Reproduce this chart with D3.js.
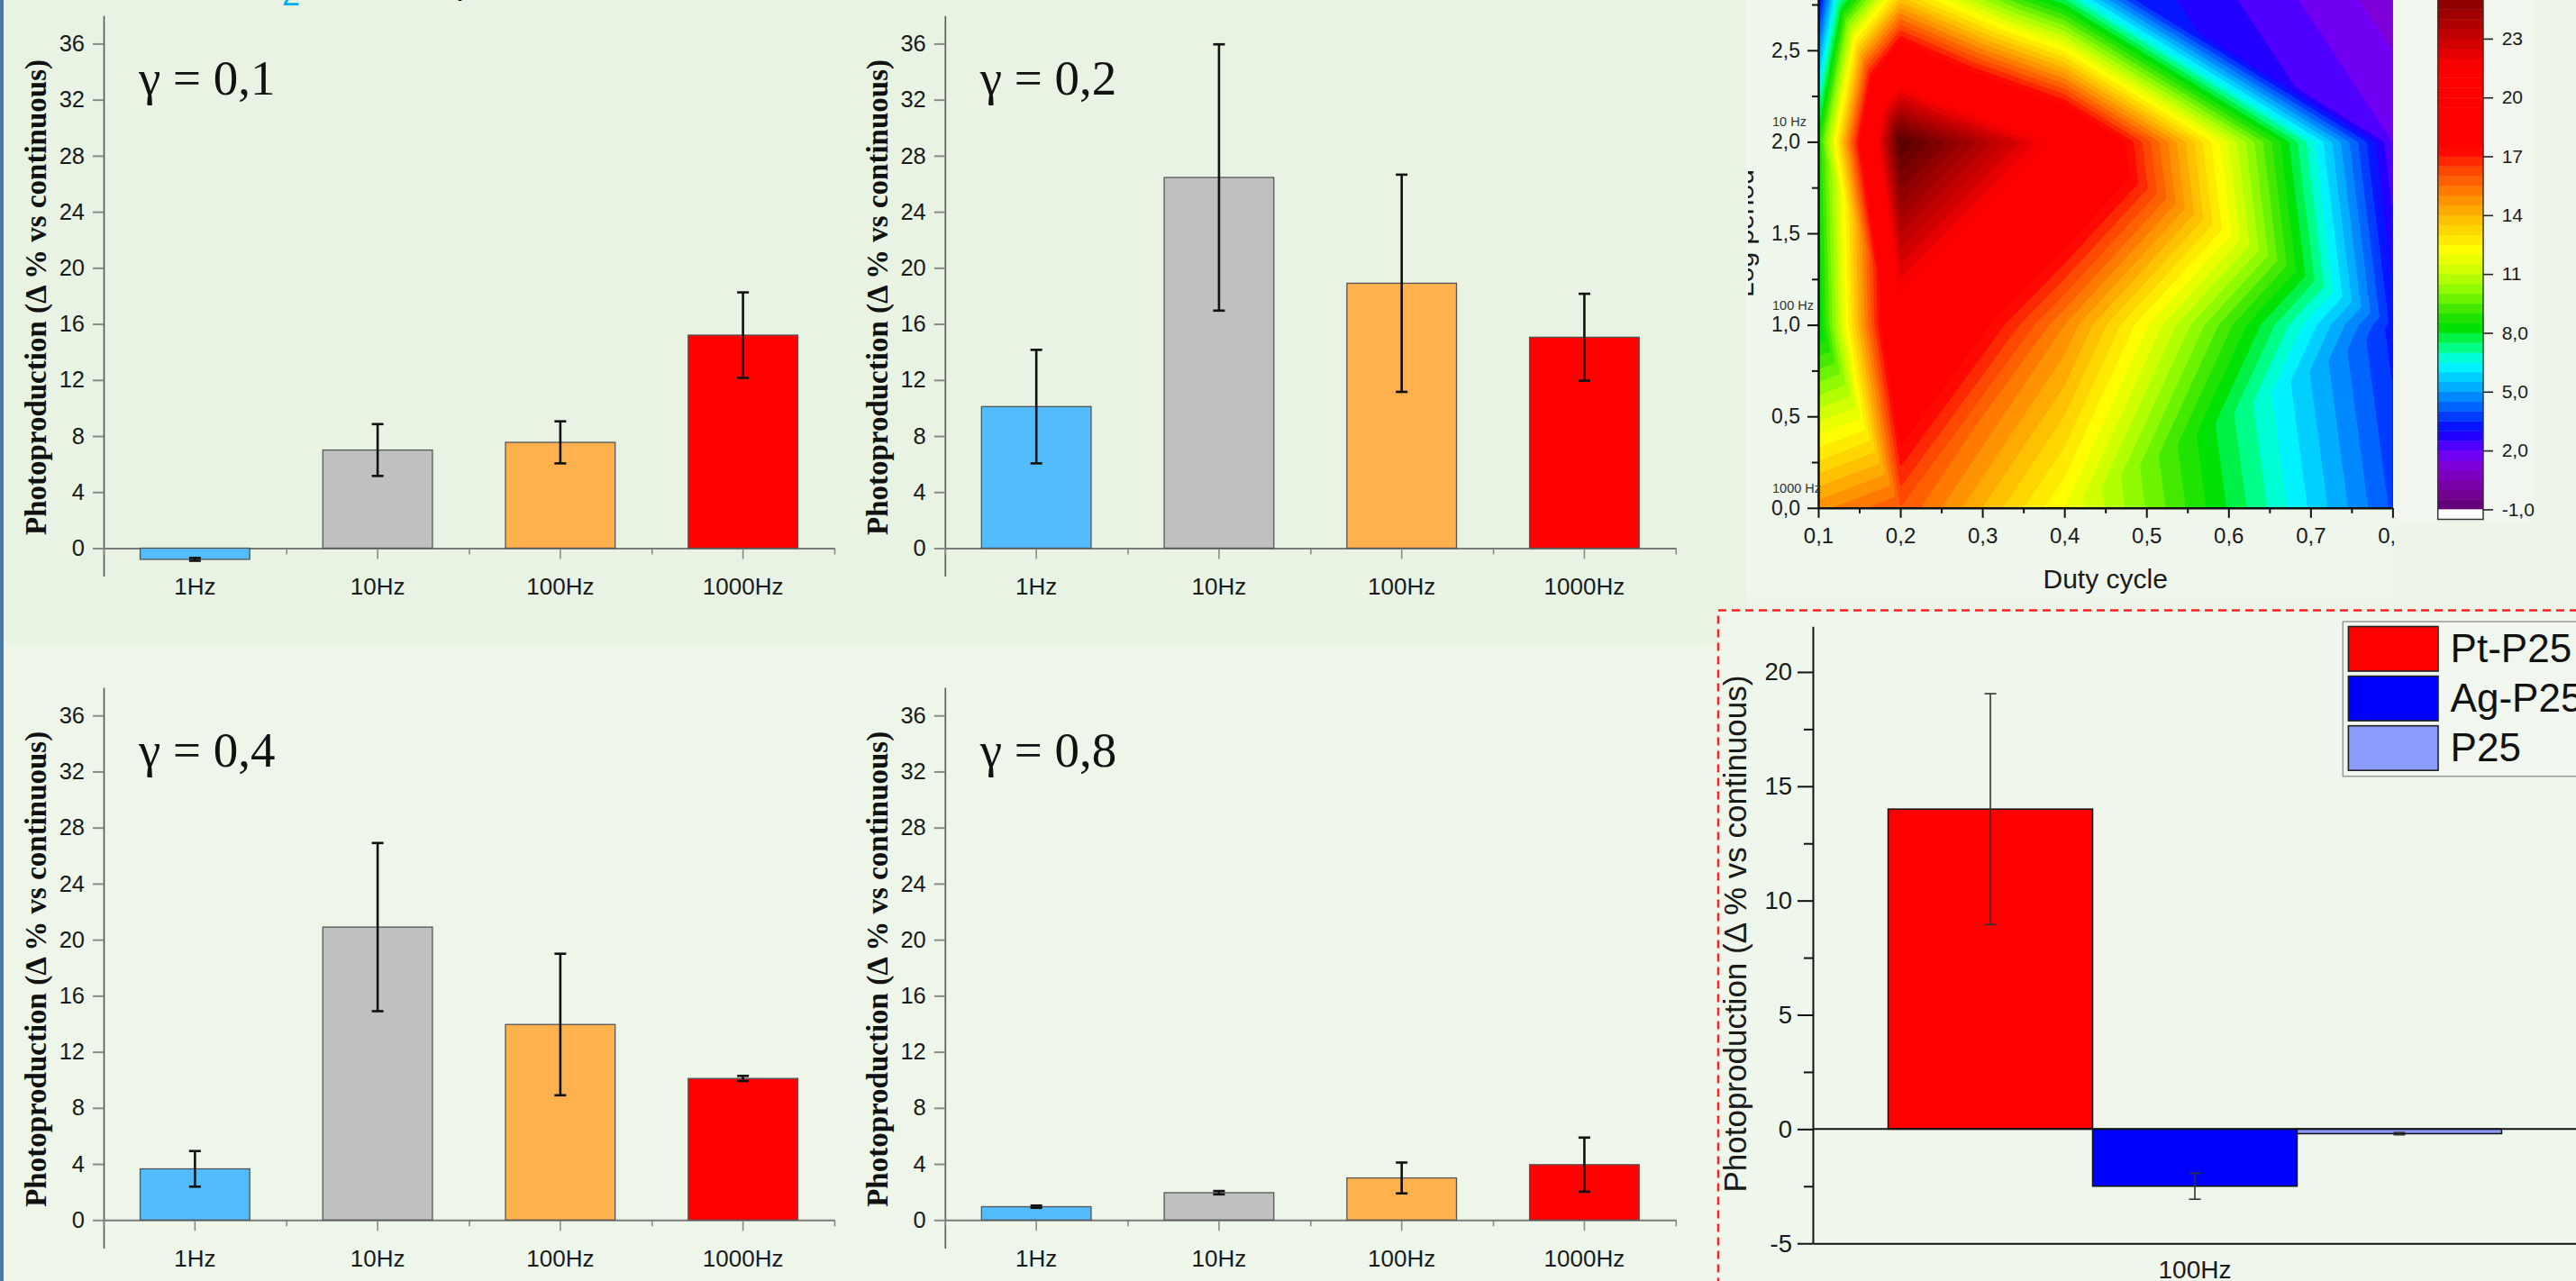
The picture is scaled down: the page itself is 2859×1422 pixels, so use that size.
<!DOCTYPE html>
<html><head><meta charset="utf-8">
<script src="https://cdn.jsdelivr.net/npm/d3@7"></script>
<style>html,body{margin:0;padding:0;background:#edf5e8;overflow:hidden} svg{display:block}</style>
</head><body>
<svg id="c" width="2859" height="1422"></svg>
<script>
// ---------------- DATA ----------------
const frequencies = ["1Hz", "10Hz", "100Hz", "1000Hz"];
const freqColors = ["#52bcfc", "#c0c0c0", "#ffb14e", "#ff0000"];
const gammaLabels = ["γ = 0,1", "γ = 0,2", "γ = 0,4", "γ = 0,8"];
const gamma01Values = [-0.8, 7.0, 7.55, 15.2];
const gamma01Errors = [0.1, 1.85, 1.5, 3.05];
const gamma02Values = [10.1, 26.45, 18.9, 15.05];
const gamma02Errors = [4.05, 9.5, 7.75, 3.1];
const gamma04Values = [3.65, 20.9, 13.95, 10.1];
const gamma04Errors = [1.27, 6.0, 5.05, 0.18];
const gamma08Values = [0.95, 1.95, 3.0, 3.95];
const gamma08Errors = [0.08, 0.12, 1.1, 1.93];
const barYTicks = [0, 4, 8, 12, 16, 20, 24, 28, 32, 36];
const barYTitle = "Photoproduction (Δ % vs continuous)";

// contour map (duty cycle x log period), values
const dutyCycles = [0.1, 0.2, 0.4, 0.8];
const logPeriods = [0, 1, 2, 3];
const zLogP0 = [14.8, 16.0, 12.0, 3.9];
const zLogP1 = [7.8, 20.5, 15.0, 3.3];
const zLogP2 = [8.5, 26.5, 21.0, 2.0];
const zLogP3 = [1.0, 10.1, 3.7, 1.0];
// triangulation of each grid cell: "a" = lower-left/upper-right diagonal, "b" = upper-left/lower-right
const cellDiagonals0 = ["b", "a", "a"];
const cellDiagonals1 = ["b", "a", "b"];
const cellDiagonals2 = ["b", "a", "b"];
const contourXTicks = [0.1, 0.2, 0.3, 0.4, 0.5, 0.6, 0.7, 0.8];
const contourXMinor = [0.15, 0.25, 0.35, 0.45, 0.55, 0.65, 0.75];
const contourYTicks = [0, 0.5, 1.0, 1.5, 2.0, 2.5, 3.0];
const contourYMinor = [0.25, 0.75, 1.25, 1.75, 2.25, 2.75];
const freqMarkLabels = ["1000 Hz", "100 Hz", "10 Hz"];
const freqMarkLogP = [0, 1, 2];
const colorbarTicks = [-1, 2, 5, 8, 11, 14, 17, 20, 23];
const colorbarTickLabels = ["-1,0", "2,0", "5,0", "8,0", "11", "14", "17", "20", "23"];
const colorStopValues = [-1.0, -0.3, 0.5, 1.2, 1.8, 2.4, 3.0, 3.6, 4.3, 5.0, 5.7, 6.3, 6.8, 7.3, 7.8, 8.3, 9.0, 9.8, 10.6, 11.4, 12.2, 12.9, 13.6, 14.3, 15.0, 15.7, 16.4, 17.0, 17.4, 21.5, 23.0, 24.5, 26.0, 27.0];
const colorStopColors = ["#5c006c", "#72008c", "#7e00b4", "#8200d8", "#6e00f4", "#4400ff", "#0a00ff", "#0030ff", "#0068ff", "#009cff", "#00ccff", "#00f4ff", "#00ffd0", "#00ff80", "#00f040", "#00e000", "#30e400", "#70f400", "#a8ff00", "#d8ff00", "#ffff00", "#ffe400", "#ffc800", "#ffa800", "#ff8800", "#ff6400", "#ff4000", "#ff1800", "#ff0000", "#ff0000", "#c80000", "#960000", "#640000", "#4a0000"];

// catalyst comparison
const catalystCategory = ["100Hz"];
const catalysts = ["Pt-P25", "Ag-P25", "P25"];
const catalystValues = [14.0, -2.5, -0.2];
const catalystErrors = [5.05, 0.57, 0.05];
const catalystColors = ["#ff0000", "#0000ff", "#8c9cff"];
const catalystYTicks = [-5, 0, 5, 10, 15, 20];
const catalystYMinor = [-2.5, 2.5, 7.5, 12.5, 17.5];

// ---------------- DRAWING ----------------
const SANS = "'Liberation Sans', Arial, sans-serif";
const SERIF = "'Liberation Serif', 'Times New Roman', serif";
const svg = d3.select("#c");

function styleAxis(sel, o) {
  sel.attr("font-size", null).attr("font-family", null);
  sel.select(".domain").attr("stroke", o.dc).attr("stroke-width", o.dw);
  sel.selectAll(".tick line").attr("stroke", o.tc).attr("stroke-width", o.tw);
  sel.selectAll(".tick text").attr("fill", o.txt || "#1a1a1a")
    .style("font-size", o.fs + "px").style("font-family", SANS);
}

// backgrounds of the pasted sub-images
svg.append("rect").attr("x", 0).attr("y", 0).attr("width", 2859).attr("height", 1422).attr("fill", "#edf5e8");
svg.append("rect").attr("x", 4).attr("y", 0).attr("width", 1934).attr("height", 717).attr("fill", "#e9f3e3");
svg.append("rect").attr("x", 4).attr("y", 717).attr("width", 1903).attr("height", 705).attr("fill", "#eef6ea");
svg.append("rect").attr("x", 1938).attr("y", 0).attr("width", 719).attr("height", 662).attr("fill", "#eff6ec");
svg.append("rect").attr("x", 2657).attr("y", 0).attr("width", 155).attr("height", 578).attr("fill", "#f1f7ef");
svg.append("rect").attr("x", 0).attr("y", 0).attr("width", 4).attr("height", 1422).attr("fill", "#4a78ad");

// cut-off text at the very top
svg.append("text").attr("x", 313).attr("y", 6).text("2")
  .style("font-family", SANS).style("font-size", "36px").attr("fill", "#00b0f0");
svg.append("text").attr("x", 506).attr("y", -7).text("p")
  .style("font-family", SANS).style("font-size", "40px").attr("fill", "#111");

// ---------- bar panels ----------
function barPanel(ox, oy, label, values, errors) {
  const g = svg.append("g").attr("transform", `translate(${ox},${oy})`);
  const x = d3.scaleBand().domain(frequencies).range([115, 926]).paddingInner(0.4).paddingOuter(0.2);
  const y = d3.scaleLinear().domain([-2, 38]).range([639.6, 17.3]);

  const ya = g.append("g").attr("transform", "translate(115,0)")
    .call(d3.axisLeft(y).tickValues(barYTicks).tickSize(12).tickPadding(9).tickSizeOuter(0));
  styleAxis(ya, {dc: "#555", dw: 1.6, tc: "#8a8a8a", tw: 2, fs: 25.5});

  const xb = d3.scalePoint().domain(d3.range(5)).range([115, 926]);
  const xbA = g.append("g").attr("transform", `translate(0,${y(0)})`)
    .call(d3.axisBottom(xb).tickSize(7).tickFormat(""));
  xbA.select(".domain").remove();
  xbA.selectAll(".tick line").attr("stroke", "#8a8a8a").attr("stroke-width", 1.6);

  const xa = g.append("g").attr("transform", `translate(0,${y(0)})`)
    .call(d3.axisBottom(x).tickSize(12).tickPadding(21).tickSizeOuter(0));
  styleAxis(xa, {dc: "#7a7a7a", dw: 2, tc: "#8a8a8a", tw: 1.6, fs: 26});

  const data = frequencies.map((f, i) => ({f, v: values[i], e: errors[i], c: freqColors[i]}));
  g.selectAll("rect.bar").data(data).join("rect").attr("class", "bar")
    .attr("x", d => x(d.f)).attr("width", x.bandwidth())
    .attr("y", d => y(Math.max(0, d.v))).attr("height", d => Math.abs(y(d.v) - y(0)))
    .attr("fill", d => d.c).attr("stroke", "#555").attr("stroke-width", 1.3);

  const eg = g.selectAll("g.err").data(data).join("g").attr("class", "err")
    .attr("stroke", "#111").attr("stroke-width", 2.6);
  eg.append("line").attr("x1", d => x(d.f) + x.bandwidth() / 2).attr("x2", d => x(d.f) + x.bandwidth() / 2)
    .attr("y1", d => y(d.v + d.e)).attr("y2", d => y(d.v - d.e));
  eg.append("line").attr("x1", d => x(d.f) + x.bandwidth() / 2 - 6.5).attr("x2", d => x(d.f) + x.bandwidth() / 2 + 6.5)
    .attr("y1", d => y(d.v + d.e)).attr("y2", d => y(d.v + d.e));
  eg.append("line").attr("x1", d => x(d.f) + x.bandwidth() / 2 - 6.5).attr("x2", d => x(d.f) + x.bandwidth() / 2 + 6.5)
    .attr("y1", d => y(d.v - d.e)).attr("y2", d => y(d.v - d.e));

  g.append("text").attr("x", 154).attr("y", 105).text(label)
    .style("font-family", SERIF).style("font-size", "55px").attr("fill", "#111");
  g.append("text").attr("transform", "translate(51,330) rotate(-90)").attr("text-anchor", "middle")
    .text(barYTitle).style("font-family", SERIF).style("font-weight", "bold").style("font-size", "33px").attr("fill", "#111");
}
barPanel(0, 0, gammaLabels[0], gamma01Values, gamma01Errors);
barPanel(933.8, 0, gammaLabels[1], gamma02Values, gamma02Errors);
barPanel(0, 745.8, gammaLabels[2], gamma04Values, gamma04Errors);
barPanel(933.8, 745.8, gammaLabels[3], gamma08Values, gamma08Errors);

// ---------- contour map ----------
const commaLocale = d3.formatLocale({decimal: ",", thousands: ".", grouping: [3], currency: ["", ""], minus: "-"});
const fmt1 = commaLocale.format(".1f");
const colorScale = d3.scaleLinear().domain(colorStopValues).range(colorStopColors).clamp(true);
const xC = d3.scaleLinear().domain([0.1, 0.8]).range([2018, 2655.4]);
const yC = d3.scaleLinear().domain([0, 3]).range([563.8, -45.8]);
const zRows = [zLogP0, zLogP1, zLogP2, zLogP3];
const diags = [cellDiagonals0, cellDiagonals1, cellDiagonals2];

function zAt(dx, lp) {
  const i = Math.max(0, Math.min(2, d3.bisectRight(dutyCycles, dx) - 1));
  const j = Math.max(0, Math.min(2, d3.bisectRight(logPeriods, lp) - 1));
  const u = (dx - dutyCycles[i]) / (dutyCycles[i + 1] - dutyCycles[i]);
  const v = (lp - logPeriods[j]) / (logPeriods[j + 1] - logPeriods[j]);
  const z00 = zRows[j][i], z10 = zRows[j][i + 1], z01 = zRows[j + 1][i], z11 = zRows[j + 1][i + 1];
  if (diags[j][i] === "a") {
    if (u >= v) return z00 + u * (z10 - z00) + v * (z11 - z10);
    return z00 + v * (z01 - z00) + u * (z11 - z01);
  }
  if (u + v <= 1) return z00 + u * (z10 - z00) + v * (z01 - z00);
  return z11 + (1 - u) * (z01 - z11) + (1 - v) * (z10 - z11);
}

const clip = svg.append("defs").append("clipPath").attr("id", "cclip");
clip.append("rect").attr("x", 1940).attr("y", 0).attr("width", 717).attr("height", 662);
const gC = svg.append("g").attr("clip-path", "url(#cclip)");

const nC = 320, mC = 306;
const grid = new Float64Array(nC * mC);
const [dx0, dx1] = xC.domain(), [lp0, lp1] = yC.domain();
for (let r = 0; r < mC; r++) {
  const lp = lp1 - (r + 0.5) / mC * (lp1 - lp0);
  for (let c = 0; c < nC; c++) {
    const dx = dx0 + (c + 0.5) / nC * (dx1 - dx0);
    grid[r * nC + c] = zAt(dx, lp);
  }
}
const thresholds = d3.range(-1, 27.01, 0.5);
const bands = d3.contours().size([nC, mC]).thresholds(thresholds)(grid);
const px0 = xC.range()[0], sxC = (xC.range()[1] - xC.range()[0]) / nC;
const py0 = yC(lp1), syC = (yC(lp0) - yC(lp1)) / mC;
const proj = d3.geoTransform({point(x, y) { this.stream.point(px0 + x * sxC, py0 + y * syC); }});
gC.append("g").selectAll("path").data(bands).join("path")
  .attr("d", d3.geoPath(proj)).attr("fill", d => colorScale(d.value + 0.25));

const cyA = gC.append("g").attr("transform", `translate(${xC.range()[0]},0)`)
  .call(d3.axisLeft(yC).tickValues(contourYTicks).tickFormat(fmt1).tickSize(12).tickPadding(8).tickSizeOuter(0));
styleAxis(cyA, {dc: "#111", dw: 2.5, tc: "#111", tw: 2, fs: 23});
const cyM = gC.append("g").attr("transform", `translate(${xC.range()[0]},0)`)
  .call(d3.axisLeft(yC).tickValues(contourYMinor).tickFormat("").tickSize(7));
cyM.select(".domain").remove();
cyM.selectAll(".tick line").attr("stroke", "#111").attr("stroke-width", 2);

const cxA = gC.append("g").attr("transform", `translate(0,${yC(0)})`)
  .call(d3.axisBottom(xC).tickValues(contourXTicks).tickFormat(fmt1).tickSize(11).tickPadding(11).tickSizeOuter(0));
styleAxis(cxA, {dc: "#111", dw: 2.5, tc: "#111", tw: 2, fs: 24});
const cxM = gC.append("g").attr("transform", `translate(0,${yC(0)})`)
  .call(d3.axisBottom(xC).tickValues(contourXMinor).tickFormat("").tickSize(6));
cxM.select(".domain").remove();
cxM.selectAll(".tick line").attr("stroke", "#111").attr("stroke-width", 2);

gC.selectAll("text.fm").data(freqMarkLabels).join("text").attr("class", "fm")
  .attr("x", 1967).attr("y", (d, i) => yC(freqMarkLogP[i]) - 17).text(d => d)
  .style("font-family", SANS).style("font-size", "14.5px").attr("fill", "#333");
gC.append("text").attr("x", (xC.range()[0] + xC.range()[1]) / 2 + 0).attr("y", 653).attr("text-anchor", "middle")
  .text("Duty cycle").style("font-family", SANS).style("font-size", "30px").attr("fill", "#1a1a1a");
gC.append("text").attr("transform", `translate(1946,${(yC(0) + yC(3)) / 2}) rotate(-90)`).attr("text-anchor", "middle")
  .text("Log period").style("font-family", SANS).style("font-size", "30px").attr("fill", "#1a1a1a");

// ---------- colour bar ----------
const ycb = d3.scaleLinear().domain([-1, 23]).range([565.4, 42.9]);
const cbX = 2705.7, cbW = 50.3;
const gCB = svg.append("g");
gCB.selectAll("rect.cb").data(thresholds).join("rect").attr("class", "cb")
  .attr("x", cbX).attr("width", cbW)
  .attr("y", d => ycb(d + 0.5)).attr("height", d => ycb(d) - ycb(d + 0.5) + 0.4)
  .attr("fill", d => colorScale(d + 0.25));
gCB.append("rect").attr("x", cbX).attr("y", ycb(-1)).attr("width", cbW).attr("height", 11.1)
  .attr("fill", "#ffffff");
gCB.append("rect").attr("x", cbX).attr("y", -5).attr("width", cbW).attr("height", ycb(-1) + 11.1 + 5)
  .attr("fill", "none").attr("stroke", "#333").attr("stroke-width", 1.5);
const cbA = gCB.append("g").attr("transform", `translate(${cbX + cbW},0)`)
  .call(d3.axisRight(ycb).tickValues(colorbarTicks).tickFormat((d, i) => colorbarTickLabels[i]).tickSize(11).tickPadding(9.7));
cbA.select(".domain").remove();
styleAxis(cbA, {dc: "none", dw: 0, tc: "#222", tw: 1.6, fs: 21});

// ---------- catalyst comparison (dashed panel) ----------
const gR = svg.append("g");
gR.append("rect").attr("x", 1907).attr("y", 677.5).attr("width", 1000).attr("height", 800)
  .attr("fill", "#eff6ec").attr("stroke", "#ff2020").attr("stroke-width", 2.5).attr("stroke-dasharray", "9,6");
const xr = d3.scaleBand().domain(catalystCategory).range([2012, 2860]).padding(0.1093);
const xs = d3.scaleBand().domain(catalysts).range([0, xr.bandwidth()]);
const yr = d3.scaleLinear().domain([-5, 22]).range([1380.2, 695.2]);

const cdata = catalysts.map((k, i) => ({k, v: catalystValues[i], e: catalystErrors[i], c: catalystColors[i]}));
gR.selectAll("rect.cbar").data(cdata).join("rect").attr("class", "cbar")
  .attr("x", d => xr(catalystCategory[0]) + xs(d.k)).attr("width", xs.bandwidth())
  .attr("y", d => yr(Math.max(0, d.v))).attr("height", d => Math.abs(yr(d.v) - yr(0)))
  .attr("fill", d => d.c).attr("stroke", "#111").attr("stroke-width", 1.5);
const ceg = gR.selectAll("g.cerr").data(cdata).join("g").attr("class", "cerr")
  .attr("stroke", "#333").attr("stroke-width", 1.6);
const cx = d => xr(catalystCategory[0]) + xs(d.k) + xs.bandwidth() / 2;
ceg.append("line").attr("x1", cx).attr("x2", cx).attr("y1", d => yr(d.v + d.e)).attr("y2", d => yr(d.v - d.e));
ceg.append("line").attr("x1", d => cx(d) - 6.5).attr("x2", d => cx(d) + 6.5).attr("y1", d => yr(d.v + d.e)).attr("y2", d => yr(d.v + d.e));
ceg.append("line").attr("x1", d => cx(d) - 6.5).attr("x2", d => cx(d) + 6.5).attr("y1", d => yr(d.v - d.e)).attr("y2", d => yr(d.v - d.e));

gR.append("line").attr("x1", xr.range()[0]).attr("x2", xr.range()[1]).attr("y1", yr(0)).attr("y2", yr(0))
  .attr("stroke", "#111").attr("stroke-width", 2);

const ryA = gR.append("g").attr("transform", `translate(${xr.range()[0]},0)`)
  .call(d3.axisLeft(yr).tickValues(catalystYTicks).tickFormat(d => String(d)).tickSize(17).tickPadding(6).tickSizeOuter(0));
styleAxis(ryA, {dc: "#111", dw: 2, tc: "#111", tw: 2, fs: 27.5});
const ryM = gR.append("g").attr("transform", `translate(${xr.range()[0]},0)`)
  .call(d3.axisLeft(yr).tickValues(catalystYMinor).tickFormat("").tickSize(10));
ryM.select(".domain").remove();
ryM.selectAll(".tick line").attr("stroke", "#111").attr("stroke-width", 2);
const rxA = gR.append("g").attr("transform", `translate(0,${yr(-5)})`)
  .call(d3.axisBottom(xr).tickSize(0).tickPadding(18.5).tickSizeOuter(0));
styleAxis(rxA, {dc: "#111", dw: 2, tc: "#111", tw: 0, fs: 28});

gR.append("text").attr("transform", "translate(1938,1036.6) rotate(-90)").attr("text-anchor", "middle")
  .text(barYTitle).style("font-family", SANS).style("font-size", "35px").attr("fill", "#1a1a1a");

// legend
const lg = gR.append("g");
lg.append("rect").attr("x", 2600.3).attr("y", 690).attr("width", 300).attr("height", 171.7)
  .attr("fill", "#f1f7ef").attr("stroke", "#999").attr("stroke-width", 1.5);
lg.selectAll("rect.sw").data(cdata).join("rect").attr("class", "sw")
  .attr("x", 2606.4).attr("y", (d, i) => 695.5 + i * 55.1).attr("width", 99.6).attr("height", 49.5)
  .attr("fill", d => d.c).attr("stroke", "#222").attr("stroke-width", 1.6);
lg.selectAll("text.lt").data(cdata).join("text").attr("class", "lt")
  .attr("x", 2719.6).attr("y", (d, i) => 735.3 + i * 54.7).text(d => d.k)
  .style("font-family", SANS).style("font-size", "44px").attr("fill", "#111");
</script>
</body></html>
